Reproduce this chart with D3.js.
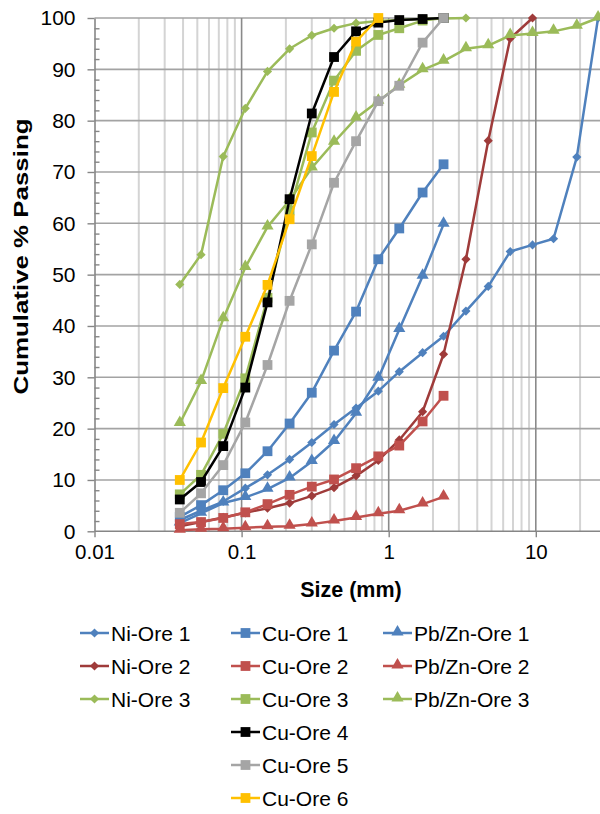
<!DOCTYPE html>
<html>
<head>
<meta charset="utf-8">
<script src="https://cdn.jsdelivr.net/npm/d3@7"></script>
<style>
  html, body { margin: 0; padding: 0; background: #fff; }
  svg { display: block; font-family: "Liberation Sans", Arial, sans-serif; }
</style>
</head>
<body>
<svg id="chart" width="600" height="814"></svg>
<script>
// Sieve sizes (mm) shared by all samples
const sizes = [0.038, 0.053, 0.075, 0.106, 0.15, 0.212, 0.3, 0.425, 0.6, 0.85,
               1.18, 1.7, 2.36, 3.35, 4.75, 6.7, 9.5, 13.2, 19, 26.5];

// Cumulative % passing per sample, starting at the 0.038 mm sieve
const niOre1 = [2.2, 4.0, 5.8, 8.4, 11.0, 14.0, 17.3, 20.8, 24.0, 27.3, 31.1, 34.8, 38.0, 42.9, 47.7, 54.5, 55.8, 57.0, 72.9, 100];
const niOre2 = [1.0, 1.8, 2.7, 3.6, 4.5, 5.5, 6.9, 8.5, 10.8, 13.8, 17.8, 23.3, 34.5, 53.0, 76.1, 96.0, 100];
const niOre3 = [48.1, 53.9, 73.0, 82.4, 89.6, 94.0, 96.6, 98.0, 99.0, 99.4, 99.6, 99.8, 99.9, 100];
const cuOre1 = [2.8, 5.1, 8.0, 11.3, 15.6, 21.0, 27.0, 35.2, 42.8, 53.0, 59.0, 66.0, 71.5];
const cuOre2 = [1.4, 1.8, 2.6, 3.7, 5.3, 7.1, 8.7, 10.1, 12.3, 14.6, 16.7, 21.4, 26.4];
const cuOre3 = [7.2, 11.0, 19.0, 29.8, 45.5, 62.5, 77.7, 87.8, 93.6, 96.7, 98.0, 99.5, 100];
const cuOre4 = [6.2, 9.6, 16.6, 28.0, 44.6, 64.7, 81.4, 92.4, 97.4, 99.1, 99.6, 99.8, 100];
const cuOre5 = [3.6, 7.4, 12.9, 21.2, 32.4, 44.9, 55.9, 67.9, 76.0, 83.8, 86.8, 95.2, 100];
const cuOre6 = [10.0, 17.3, 27.9, 37.9, 48.0, 60.8, 73.1, 85.6, 95.4, 100];
const pbZnOre1 = [1.6, 3.5, 5.5, 6.6, 8.2, 10.4, 13.6, 17.5, 23.0, 29.8, 39.3, 49.7, 59.8];
const pbZnOre2 = [0.2, 0.4, 0.5, 0.7, 0.9, 1.0, 1.4, 2.0, 2.7, 3.4, 4.0, 5.3, 6.7];
const pbZnOre3 = [21.0, 29.2, 41.4, 51.4, 59.3, 64.5, 70.8, 75.8, 80.5, 83.8, 86.9, 89.9, 91.6, 94.0, 94.6, 96.6, 97.0, 97.4, 98.4, 100];

const xTickValues = [0.01, 0.1, 1, 10];
const xTickLabels = ["0.01", "0.1", "1", "10"];
const yTickValues = [0, 10, 20, 30, 40, 50, 60, 70, 80, 90, 100];

const series = [
  { name: "Ni-Ore 1",    values: niOre1,   color: "#4F81BD", shape: "diamond" },
  { name: "Cu-Ore 1",    values: cuOre1,   color: "#4F81BD", shape: "square" },
  { name: "Pb/Zn-Ore 1", values: pbZnOre1, color: "#4F81BD", shape: "triangle" },
  { name: "Ni-Ore 2",    values: niOre2,   color: "#9F3B3A", shape: "diamond" },
  { name: "Cu-Ore 2",    values: cuOre2,   color: "#C0504D", shape: "square" },
  { name: "Pb/Zn-Ore 2", values: pbZnOre2, color: "#C0504D", shape: "triangle" },
  { name: "Ni-Ore 3",    values: niOre3,   color: "#9BBB59", shape: "diamond" },
  { name: "Cu-Ore 3",    values: cuOre3,   color: "#9BBB59", shape: "square" },
  { name: "Pb/Zn-Ore 3", values: pbZnOre3, color: "#9BBB59", shape: "triangle" },
  { name: "Cu-Ore 4",    values: cuOre4,   color: "#000000", shape: "square" },
  { name: "Cu-Ore 5",    values: cuOre5,   color: "#A5A5A5", shape: "square" },
  { name: "Cu-Ore 6",    values: cuOre6,   color: "#FFC000", shape: "square" }
];

// Legend grid: [column, row] for each sample
const legendSlots = {
  "Ni-Ore 1": [0, 0], "Ni-Ore 2": [0, 1], "Ni-Ore 3": [0, 2],
  "Cu-Ore 1": [1, 0], "Cu-Ore 2": [1, 1], "Cu-Ore 3": [1, 2],
  "Cu-Ore 4": [1, 3], "Cu-Ore 5": [1, 4], "Cu-Ore 6": [1, 5],
  "Pb/Zn-Ore 1": [2, 0], "Pb/Zn-Ore 2": [2, 1], "Pb/Zn-Ore 3": [2, 2]
};

const svg = d3.select("#chart");
const plot = { left: 94.5, top: 18, bottom: 531.3 };
const decade = 147.1;

const x = d3.scaleLog().domain([0.01, 100]).range([plot.left, plot.left + 4 * decade]);
const y = d3.scaleLinear().domain([0, 100]).range([plot.bottom, plot.top]);
const plotRight = 600;

// Vertical gridlines: minor (2..9) then decades
const minorX = [];
const majorX = [];
for (let e = -2; e <= 1; e++) {
  for (let k = 1; k <= 9; k++) {
    const v = k * Math.pow(10, e);
    if (k === 1) majorX.push(v); else minorX.push(v);
  }
}
majorX.push(100);

const grid = svg.append("g");
grid.selectAll("line.minor").data(minorX).join("line")
  .attr("x1", d => x(d)).attr("x2", d => x(d))
  .attr("y1", plot.top).attr("y2", plot.bottom)
  .attr("stroke", "#d4d4d4").attr("stroke-width", 2);
grid.selectAll("line.hgrid").data(yTickValues.filter(v => v > 0)).join("line")
  .attr("x1", plot.left).attr("x2", plotRight)
  .attr("y1", d => y(d)).attr("y2", d => y(d))
  .attr("stroke", "#a3a3a3").attr("stroke-width", 1.6);
grid.selectAll("line.major").data(majorX.slice(1)).join("line")
  .attr("x1", d => x(d)).attr("x2", d => x(d))
  .attr("y1", plot.top).attr("y2", plot.bottom)
  .attr("stroke", "#8a8a8a").attr("stroke-width", 1.6);

// Y axis: major ticks outside, minor ticks inside
const yAxis = svg.append("g").attr("transform", `translate(${plot.left},0)`)
  .call(d3.axisLeft(y).tickValues(yTickValues).tickSizeInner(7).tickSizeOuter(0).tickPadding(12).tickFormat(d3.format("d")));
const yMinor = svg.append("g").attr("transform", `translate(${plot.left},0)`)
  .call(d3.axisRight(y).tickValues(d3.range(0, 101, 2).filter(v => v % 10 !== 0)).tickSize(5).tickSizeOuter(0).tickFormat(""));

// X axis along the 0 line
const xAxis = svg.append("g").attr("transform", `translate(0,${plot.bottom})`)
  .call(d3.axisBottom(x).tickValues(xTickValues).tickSizeInner(6).tickSizeOuter(0).tickPadding(7)
    .tickFormat((d, i) => xTickLabels[i]));

[yAxis, yMinor, xAxis].forEach(g => {
  g.select(".domain").attr("stroke", "#868686").attr("stroke-width", 1.6);
  g.selectAll(".tick line").attr("stroke", "#868686").attr("stroke-width", 1.4);
  g.selectAll(".tick text").attr("fill", "#000").style("font-size", "21px")
    .style("font-family", "'Liberation Sans', Arial, sans-serif");
});
xAxis.selectAll(".tick text").style("font-size", "20.5px");
yMinor.select(".domain").remove();
xAxis.select(".domain").attr("d", `M${plot.left},0H${plotRight}`);

// Axis titles
svg.append("text")
  .attr("x", 351).attr("y", 597)
  .attr("text-anchor", "middle")
  .style("font-size", "21.5px").style("font-weight", "bold")
  .text("Size (mm)");
svg.append("text")
  .attr("transform", `translate(28,256.5) rotate(-90)`)
  .attr("text-anchor", "middle")
  .attr("textLength", 276).attr("lengthAdjust", "spacingAndGlyphs")
  .style("font-size", "21px").style("font-weight", "bold")
  .text("Cumulative % Passing");

// Marker drawing
const markerPath = {
  diamond: d3.symbol().type(d3.symbolSquare).size(42),
  square: d3.symbol().type(d3.symbolSquare).size(96),
  triangle: d3.symbol().type(d3.symbolTriangle).size(64)
};
function drawMarker(g, shape, color, cx, cy) {
  const dy = shape === "triangle" ? -1 : 0;
  g.append("path")
    .attr("d", markerPath[shape]())
    .attr("transform", shape === "diamond"
      ? `translate(${cx},${cy}) rotate(45)`
      : `translate(${cx},${cy + dy})`)
    .attr("fill", color);
}

// Data lines with markers
const line = d3.line().x(d => x(d[0])).y(d => y(d[1]));
const plotG = svg.append("g");
series.forEach(s => {
  const pts = s.values.map((v, i) => [sizes[i], v]);
  const g = plotG.append("g");
  g.append("path").attr("d", line(pts))
    .attr("fill", "none").attr("stroke", s.color).attr("stroke-width", 2.5)
    .attr("stroke-linejoin", "round");
  pts.forEach(p => drawMarker(g, s.shape, s.color, x(p[0]), y(p[1])));
});

// Legend
const legend = svg.append("g");
const colX = [80, 231, 383];
const rowY = [633, 666, 699, 732, 765, 798];
series.forEach(s => {
  const [c, r] = legendSlots[s.name];
  const g = legend.append("g").attr("transform", `translate(${colX[c]},${rowY[r]})`);
  g.append("line").attr("x1", 0).attr("x2", 29).attr("y1", 0).attr("y2", 0)
    .attr("stroke", s.color).attr("stroke-width", 2.5);
  drawMarker(g, s.shape, s.color, 14.5, 0);
  g.append("text").attr("x", 31).attr("y", 7.5)
    .style("font-size", "21px").attr("fill", "#000").text(s.name);
});
</script>
</body>
</html>
